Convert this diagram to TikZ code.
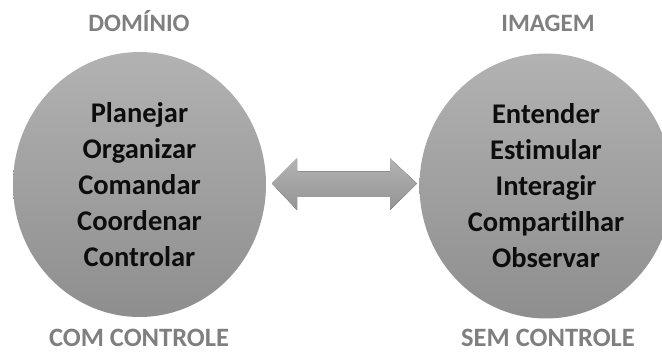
\documentclass[tikz,border=0pt]{standalone}
\usepackage{fontspec}
\setmainfont{Carlito}[Ligatures=NoCommon]
\usetikzlibrary{shapes.geometric}
\definecolor{labgray}{HTML}{7F7F7F}
\definecolor{topg}{HTML}{B2B2B2}
\definecolor{botg}{HTML}{8E8E8E}
\tikzset{
  bubble/.style={ellipse, minimum width=253pt, minimum height=265pt, inner sep=0pt, outer sep=0pt,
    top color=topg, bottom color=botg, draw=none, align=center,
    font=\bfseries\fontsize{28.5}{36}\selectfont, text=black!95},
  heading/.style={font=\bfseries\fontsize{25}{28}\selectfont, text=labgray, anchor=base, inner sep=0pt},
  footing/.style={font=\bfseries\fontsize{26.5}{30}\selectfont, text=labgray, anchor=base, inner sep=0pt},
  dblarrow/.style={top color=black!30, bottom color=black!42, draw=none}
}
\begin{document}
\begin{tikzpicture}[x=1pt,y=-1pt]
\useasboundingbox (0,0) rectangle (662,355);
\clip (0,0) rectangle (662,355);
\node[bubble] (L) at (139.5,184.5) {Planejar\\Organizar\\Comandar\\Coordenar\\Controlar};
\node[bubble] (R) at (546,186) {Entender\\Estimular\\Interagir\\Compartilhar\\Observar};
\node[heading] (Lt) at (139,32) {DOMÍNIO};
\node[heading] (Rt) at (548,32) {IMAGEM};
\node[footing] (Lb) at (139,347) {COM CONTROLE};
\node[footing] (Rb) at (548,347) {SEM CONTROLE};
\coordinate (al) at (272,183.5);
\coordinate (ar) at (417,183.5);
\fill[dblarrow] (al) -- ++(25,-25) -- ++(0,13) -- ++(93,0) -- ++(0,-13) -- (ar)
  -- ++(-27,26.5) -- ++(0,-13) -- ++(-93,0) -- ++(0,13) -- cycle;
\end{tikzpicture}
\end{document}
